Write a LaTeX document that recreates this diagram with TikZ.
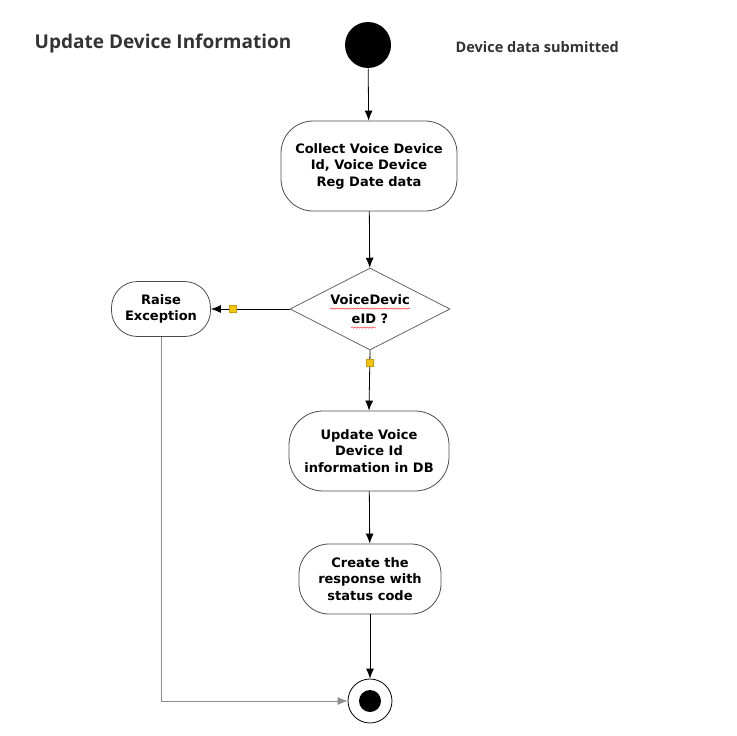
\documentclass[tikz,border=0pt]{standalone}
\usepackage{fontspec}
\setmainfont{DejaVu Sans}
\newfontfamily\headfont{Open Sans}
\usetikzlibrary{shapes.geometric}
\usetikzlibrary{positioning}
\usetikzlibrary{arrows.meta}
\usetikzlibrary{decorations.pathmorphing}
\definecolor{headgray}{HTML}{333333}
\definecolor{markyellow}{HTML}{F2C40F}
\tikzset{every picture/.style={line width=0.8pt},
  act/.style={draw=black!70, rounded corners=#1, align=center, inner sep=2pt,
    font=\fontsize{13}{16.5}\selectfont\bfseries},
  declabel/.style={inner sep=0pt, font=\fontsize{13}{16}\selectfont\bfseries},
  flow/.style={draw=black, -{Latex[length=10pt,width=8pt]}},
  flowgray/.style={draw=black!45, -{Latex[length=10pt,width=8pt]}},
  marker/.style={fill=markyellow, draw=markyellow!80!black, line width=0.3pt, minimum size=7pt, inner sep=0pt},
  squig/.style={draw=red!80, line width=0.5pt, decorate, decoration={snake, amplitude=0.6pt, segment length=3pt}}}

\begin{document}
\begin{tikzpicture}[x=1pt,y=-1pt]
\useasboundingbox (0,0) rectangle (737,736);

\node (title) [anchor=base west, text=headgray, font=\headfont\fontsize{19}{22}\selectfont\bfseries] at (31,48) {Update Device Information};
\node (start) [circle, fill=black, minimum size=46pt, inner sep=0pt] at (368,45) {};
\node (subm) [anchor=base west, text=headgray, font=\headfont\fontsize{14.5}{17}\selectfont\bfseries] at (452,52) {Device data submitted};

\node (collect) [act=32pt, minimum width=176pt, minimum height=90pt] at (369,166) {Collect Voice Device\\Id, Voice Device\\Reg Date data};
\node (dec) [diamond, draw=black!60, aspect=2, minimum width=160pt, minimum height=82pt, inner sep=0pt] at (370,309) {};
\node (dec1) [declabel, anchor=base] at (370,304) {VoiceDevic};
\node (dec2) [declabel, anchor=base] at (370,323) {eID ?};
\node (raise) [act=26pt, minimum width=99pt, minimum height=55pt] at (161,309) {Raise\\Exception};
\node (update) [act=34pt, minimum width=160pt, minimum height=80pt] at (369,451) {Update Voice\\Device Id\\information in DB};
\node (create) [act=30pt, minimum width=142pt, minimum height=70pt] at (370,579) {Create the\\response with\\status code};

\node (fin) [circle, draw=black, minimum size=44pt, inner sep=0pt] at (370,701) {};
\node (findot) [circle, fill=black, minimum size=22pt, inner sep=0pt] at (fin.center) {};

% flow
\draw[flow] (start) -- (collect);
\draw[flow] (collect) -- (dec);
\draw[flow] (dec.west) -- (raise.east);
\draw[flow] (dec.south) -- (update.north);
\draw[flow] (update) -- (create);
\draw[flow] (create) -- (fin);
\draw[flowgray] (raise.south) |- (fin.west);

% guard markers
\node (m1) [marker] at (233,309) {};
\node (m2) [marker] at (370,363) {};

% spell check lines
\draw[squig] ([yshift=-4pt]dec1.south west) -- ([yshift=-4pt]dec1.south east);
\draw[squig] ([yshift=-4pt]dec2.south west) -- ([xshift=-13pt,yshift=-4pt]dec2.south east);
\end{tikzpicture}
\end{document}
